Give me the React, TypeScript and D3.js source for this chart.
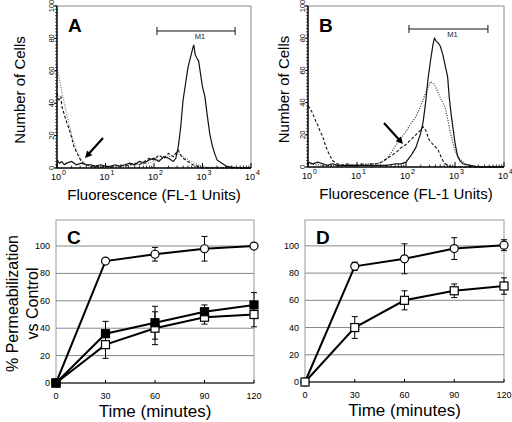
import React from "react";
import * as d3 from "d3";

// ---------- Histogram data (panel A, B): log10 fluorescence position, cell count ----------
const aSolidLog = [0, 0.05, 0.1, 0.15, 0.2, 0.3, 0.4, 0.5, 0.6, 0.7, 0.8, 0.9, 1.0, 1.1, 1.2, 1.3, 1.4, 1.5, 1.6, 1.7, 1.8, 1.9, 2.0, 2.1, 2.2, 2.3, 2.4, 2.45, 2.5, 2.55, 2.6, 2.65, 2.7, 2.75, 2.8, 2.82, 2.85, 2.88, 2.92, 2.96, 3.0, 3.05, 3.1, 3.15, 3.2, 3.25, 3.3, 3.4, 3.5, 3.6, 3.8, 4.0];
const aSolidCount = [5, 3, 4, 2, 3, 4, 2, 3, 2, 2, 1, 2, 1, 1, 2, 1, 2, 3, 2, 4, 3, 5, 6, 4, 7, 6, 4, 6, 13, 25, 42, 52, 62, 68, 74, 76, 70, 68, 66, 58, 50, 44, 32, 21, 14, 9, 5, 3, 1, 0.5, 0, 0];

const aDashLog = [0, 0.04, 0.08, 0.1, 0.15, 0.2, 0.25, 0.3, 0.35, 0.4, 0.45, 0.5, 0.55, 0.6, 0.7, 0.8, 0.9, 1.0, 1.1, 1.2, 1.3, 1.4, 1.5, 1.6, 1.7, 1.8, 1.9, 2.0, 2.1, 2.2, 2.3, 2.4, 2.5, 2.55, 2.6, 2.7, 2.8, 2.9, 3.0, 4.0];
const aDashCount = [46, 42, 44, 38, 33, 28, 24, 19, 13, 10, 7, 4, 3, 2, 1, 1.5, 0.5, 1, 0.5, 1, 2, 1, 2, 3, 2, 4, 6, 5, 8, 6, 9, 7, 11, 8, 6, 4, 2, 1, 0, 0];

const aDotLog = [0, 0.05, 0.1, 0.15, 0.2, 0.25, 0.3, 0.35, 0.4, 0.45, 0.5, 0.55, 0.6, 0.7, 0.8, 1.0, 1.3, 1.6, 1.9, 2.1, 2.3, 2.5, 2.7, 2.9, 3.1, 4.0];
const aDotCount = [62, 55, 47, 40, 33, 27, 21, 16, 11, 8, 5, 3, 2, 1, 0.5, 0.5, 1, 2, 3, 5, 7, 9, 5, 2, 0.5, 0];

const bSolidLog = [0, 0.1, 0.2, 0.3, 0.4, 0.5, 0.6, 0.8, 1.0, 1.2, 1.4, 1.6, 1.8, 1.9, 2.0, 2.1, 2.2, 2.3, 2.35, 2.4, 2.45, 2.5, 2.55, 2.58, 2.62, 2.66, 2.7, 2.75, 2.8, 2.85, 2.88, 2.92, 2.96, 3.0, 3.05, 3.1, 3.16, 3.3, 3.5, 4.0];
const bSolidCount = [3, 2, 3, 2, 1, 2, 1, 1, 1, 1, 1, 1, 2, 2, 3, 7, 12, 21, 28, 40, 55, 66, 76, 80, 78, 77, 75, 70, 63, 56, 44, 33, 24, 15, 7, 4, 2, 1, 0, 0];

const bDashLog = [0, 0.05, 0.1, 0.15, 0.2, 0.25, 0.3, 0.35, 0.4, 0.45, 0.5, 0.55, 0.6, 0.7, 0.8, 0.9, 1.0, 1.1, 1.2, 1.3, 1.4, 1.5, 1.6, 1.7, 1.8, 1.9, 2.0, 2.1, 2.2, 2.3, 2.35, 2.4, 2.47, 2.55, 2.65, 2.72, 2.78, 2.85, 2.95, 4.0];
const bDashCount = [38, 36, 33, 29, 26, 22, 19, 14, 10, 7, 4, 3, 2, 1, 2, 1, 1, 2, 1, 2, 2, 3, 5, 7, 9, 12, 14, 17, 20, 23, 25, 23, 17, 14, 11, 6, 2.5, 1, 0, 0];

const bDotLog = [0, 0.3, 0.6, 1.0, 1.2, 1.4, 1.5, 1.6, 1.7, 1.8, 1.9, 2.0, 2.1, 2.2, 2.3, 2.4, 2.5, 2.55, 2.6, 2.7, 2.8, 2.85, 2.9, 2.95, 3.0, 3.1, 3.2, 3.3, 3.5, 4.0];
const bDotCount = [2, 1, 1, 1, 2, 2, 3, 5, 9, 14, 18, 22, 27, 31, 38, 46, 53, 52, 50, 43, 37, 30, 22, 16, 10, 5, 2, 1, 0, 0];

const histYTicks = [0, 20, 40, 60, 80, 100];
const histXDecades = [0, 1, 2, 3, 4];
const m1Range = [115, 4700];

// ---------- Time course data (panel C, D) ----------
const timePoints = [0, 30, 60, 90, 120];
const timeTicks = [0, 30, 60, 90, 120];
const permTicks = [0, 20, 40, 60, 80, 100];

const cCircle = [0, 89, 94, 98, 100];
const cCircleErr = [0, 1, 5, 9, 2];
const cFilledSq = [0, 36, 44, 52, 57];
const cFilledSqErr = [0, 9, 12, 5, 9];
const cOpenSq = [0, 28, 40, 48, 50];
const cOpenSqErr = [0, 10, 12, 5, 9];

const dCircle = [0, 85, 90.5, 98, 100.5];
const dCircleErr = [0, 3, 11, 8, 4];
const dOpenSq = [0, 40, 60, 67, 70.5];
const dOpenSqErr = [0, 8, 7, 5, 6];

const FONT = "'Liberation Sans', Arial, Helvetica, sans-serif";

type HistProps = {
  x0: number; x1: number; yTop: number; yBot: number;
  letter: string;
  series: { logs: number[]; counts: number[]; style: "solid" | "dash" | "dot" | "dotGray" }[];
  arrow: [number, number, number, number];
  m1y: number;
  yLabelBase: number;
};

function Histogram({ x0, x1, yTop, yBot, letter, series, arrow, m1y, yLabelBase }: HistProps) {
  const x = d3.scaleLog().domain([1, 10000]).range([x0, x1]);
  const y = d3.scaleLinear().domain([0, 100]).range([yBot, yTop]);
  const line = d3.line<[number, number]>().x((d) => x(Math.pow(10, d[0]))).y((d) => y(d[1]));
  const minor: number[] = [];
  for (let dec = 0; dec < 4; dec++) for (let k = 2; k <= 9; k++) minor.push(k * Math.pow(10, dec));
  const yMinor = d3.range(0, 101, 2);
  const styles: Record<string, any> = {
    solid: { stroke: "#111", strokeWidth: 1.2 },
    dash: { stroke: "#111", strokeWidth: 1.1, strokeDasharray: "3,2" },
    dot: { stroke: "#333", strokeWidth: 1.2, strokeDasharray: "1,1.5" },
    dotGray: { stroke: "#777", strokeWidth: 1.2, strokeDasharray: "1,1.5" },
  };
  const cx = (x0 + x1) / 2;
  const [ax1, ay1, ax2, ay2] = arrow;
  const ang = Math.atan2(ay2 - ay1, ax2 - ax1);
  const hl = 7, hw = 3.5;
  const head = [
    [ax2, ay2],
    [ax2 - hl * Math.cos(ang) + hw * Math.sin(ang), ay2 - hl * Math.sin(ang) - hw * Math.cos(ang)],
    [ax2 - hl * Math.cos(ang) - hw * Math.sin(ang), ay2 - hl * Math.sin(ang) + hw * Math.cos(ang)],
  ];
  return (
    <g fontFamily={FONT}>
      {/* frame */}
      <line x1={x0} x2={x1} y1={yTop} y2={yTop} stroke="#888" strokeWidth={1} />
      <line x1={x1} x2={x1} y1={yTop} y2={yBot} stroke="#888" strokeWidth={1} />
      {series.map((s, i) => (
        <path key={i} d={line(s.logs.map((l, j) => [l, s.counts[j]] as [number, number])) || ""} fill="none" {...styles[s.style]} />
      ))}
      {/* axes */}
      <line x1={x0} x2={x0} y1={yTop} y2={yBot} stroke="#000" strokeWidth={1.5} />
      <line x1={x0} x2={x1} y1={yBot} y2={yBot} stroke="#000" strokeWidth={1.5} />
      {yMinor.map((v) => (
        <line key={v} x1={x0} x2={x0 - 1.8} y1={y(v)} y2={y(v)} stroke="#000" strokeWidth={0.8} />
      ))}
      {histYTicks.map((v) => (
        <g key={v}>
          <line x1={x0} x2={x0 - 3} y1={y(v)} y2={y(v)} stroke="#000" strokeWidth={1} />
          <text transform={`translate(${x0 - 3.5},${y(v)}) rotate(-90)`} textAnchor="middle" fontSize={7.5}>{v}</text>
        </g>
      ))}
      {minor.map((v) => (
        <line key={v} x1={x(v)} x2={x(v)} y1={yBot} y2={yBot - 2.5} stroke="#000" strokeWidth={0.8} />
      ))}
      {histXDecades.map((e) => (
        <g key={e}>
          <line x1={x(Math.pow(10, e))} x2={x(Math.pow(10, e))} y1={yBot} y2={yBot - 5} stroke="#000" strokeWidth={1} />
          <text x={x(Math.pow(10, e)) - 1} y={yBot + 12} textAnchor="middle" fontSize={9}>10</text>
          <text x={x(Math.pow(10, e)) + 5} y={yBot + 7} textAnchor="start" fontSize={7}>{e}</text>
        </g>
      ))}
      {/* M1 bracket */}
      <line x1={x(m1Range[0])} x2={x(m1Range[1])} y1={m1y} y2={m1y} stroke="#111" strokeWidth={1} />
      <line x1={x(m1Range[0])} x2={x(m1Range[0])} y1={m1y - 4} y2={m1y + 4} stroke="#111" strokeWidth={1} />
      <line x1={x(m1Range[1])} x2={x(m1Range[1])} y1={m1y - 4} y2={m1y + 4} stroke="#111" strokeWidth={1} />
      <text x={(x(m1Range[0]) + x(m1Range[1])) / 2 + 4} y={m1y + 8} textAnchor="middle" fontSize={7.5} fill="#222">M1</text>
      {/* arrow */}
      <line x1={ax1} y1={ay1} x2={ax2 - 5 * Math.cos(ang)} y2={ay2 - 5 * Math.sin(ang)} stroke="#000" strokeWidth={2.2} />
      <polygon points={head.map((p) => p.join(",")).join(" ")} fill="#000" />
      {/* letter */}
      <text x={x0 + 11} y={yTop + 26} fontSize={19} fontWeight="bold">{letter}</text>
      {/* labels */}
      <text x={cx} y={yBot + 32} textAnchor="middle" fontSize={15}>Fluorescence (FL-1 Units)</text>
      <text transform={`translate(${yLabelBase},${(yTop + yBot) / 2 + 3}) rotate(-90)`} textAnchor="middle" fontSize={15}>Number of Cells</text>
    </g>
  );
}

type TCProps = {
  x0: number; x1: number; yTop: number; yBot: number; letter: string;
  series: { vals: number[]; errs: number[]; marker: "circle" | "square" | "filled" }[];
  showYLabel: boolean;
};

function TimeCourse({ x0, x1, yTop, yBot, letter, series, showYLabel }: TCProps) {
  const x = d3.scaleLinear().domain([0, 120]).range([x0, x1]);
  const y = d3.scaleLinear().domain([0, 100]).range([yBot, yBot - (yBot - yTop) * 100 / 119]);
  const line = d3.line<number>().x((_, i) => x(timePoints[i])).y((d) => y(d));
  const r = 4;
  const s = 8;
  return (
    <g fontFamily={FONT}>
      <rect x={x0} y={yTop} width={x1 - x0} height={yBot - yTop} fill="none" stroke="#999" strokeWidth={1} />
      {permTicks.filter((v) => v > 0).map((v) => (
        <line key={v} x1={x0} x2={x1} y1={y(v)} y2={y(v)} stroke="#888" strokeWidth={1} />
      ))}
      <line x1={x0} x2={x1} y1={yBot} y2={yBot} stroke="#000" strokeWidth={1.2} />
      {timeTicks.map((t) => (
        <g key={t}>
          <line x1={x(t)} x2={x(t)} y1={yBot} y2={yBot - 3} stroke="#000" strokeWidth={1} />
          <text x={x(t)} y={yBot + 16} textAnchor="middle" fontSize={9}>{t}</text>
        </g>
      ))}
      {permTicks.map((v) => (
        <text key={v} x={x0 - 6} y={y(v) + 3} textAnchor="end" fontSize={9}>{v}</text>
      ))}
      {series.map((se, k) => (
        <path key={k} d={line(se.vals) || ""} fill="none" stroke="#000" strokeWidth={2} />
      ))}
      {series.map((se, k) => (
        <g key={k}>
          {se.vals.map((v, i) => se.errs[i] > 0 ? (
            <g key={i}>
              <line x1={x(timePoints[i])} x2={x(timePoints[i])} y1={y(v - se.errs[i])} y2={y(v + se.errs[i])} stroke="#000" strokeWidth={1} />
              <line x1={x(timePoints[i]) - 3} x2={x(timePoints[i]) + 3} y1={y(v - se.errs[i])} y2={y(v - se.errs[i])} stroke="#000" strokeWidth={1} />
              <line x1={x(timePoints[i]) - 3} x2={x(timePoints[i]) + 3} y1={y(v + se.errs[i])} y2={y(v + se.errs[i])} stroke="#000" strokeWidth={1} />
            </g>
          ) : null)}
        </g>
      ))}
      {series.map((se, k) => (
        <g key={k}>
          {se.vals.map((v, i) => se.marker === "circle" ? (
            <circle key={i} cx={x(timePoints[i])} cy={y(v)} r={r} fill="#fff" stroke="#000" strokeWidth={1.2} />
          ) : (
            <rect key={i} x={x(timePoints[i]) - s / 2} y={y(v) - s / 2} width={s} height={s} fill={se.marker === "filled" ? "#000" : "#fff"} stroke="#000" strokeWidth={1.2} />
          ))}
        </g>
      ))}
      <text x={x0 + 11} y={yTop + 24} fontSize={19} fontWeight="bold">{letter}</text>
      <text x={(x0 + x1) / 2} y={yBot + 34} textAnchor="middle" fontSize={17}>Time (minutes)</text>
      {showYLabel && (
        <g>
          <text transform={`translate(${x0 - 38},${(yTop + yBot) / 2 + 2}) rotate(-90)`} textAnchor="middle" fontSize={16}>% Permeabilization</text>
          <text transform={`translate(${x0 - 18},${(yTop + yBot) / 2 + 2}) rotate(-90)`} textAnchor="middle" fontSize={16}>vs Control</text>
        </g>
      )}
    </g>
  );
}

export default function App() {
  return (
    <div style={{ position: "absolute", left: 0, top: 0 }}>
      <svg width={512} height={422} style={{ display: "block", background: "#fff" }}>
        <rect width={512} height={422} fill="#fff" />
        <Histogram
          x0={57} x1={251} yTop={6} yBot={168} letter="A" m1y={31} yLabelBase={25}
          arrow={[103, 138, 85, 158]}
          series={[
            { logs: aDotLog, counts: aDotCount, style: "dotGray" },
            { logs: aDashLog, counts: aDashCount, style: "dash" },
            { logs: aSolidLog, counts: aSolidCount, style: "solid" },
          ]}
        />
        <Histogram
          x0={308} x1={504} yTop={6} yBot={167} letter="B" m1y={29} yLabelBase={289}
          arrow={[384, 123, 403, 144]}
          series={[
            { logs: bDotLog, counts: bDotCount, style: "dot" },
            { logs: bDashLog, counts: bDashCount, style: "dash" },
            { logs: bSolidLog, counts: bSolidCount, style: "solid" },
          ]}
        />
        <TimeCourse
          x0={56} x1={254} yTop={220} yBot={383} letter="C" showYLabel={true}
          series={[
            { vals: cCircle, errs: cCircleErr, marker: "circle" },
            { vals: cOpenSq, errs: cOpenSqErr, marker: "square" },
            { vals: cFilledSq, errs: cFilledSqErr, marker: "filled" },
          ]}
        />
        <TimeCourse
          x0={305} x1={504} yTop={220} yBot={382} letter="D" showYLabel={false}
          series={[
            { vals: dCircle, errs: dCircleErr, marker: "circle" },
            { vals: dOpenSq, errs: dOpenSqErr, marker: "square" },
          ]}
        />
      </svg>
    </div>
  );
}
